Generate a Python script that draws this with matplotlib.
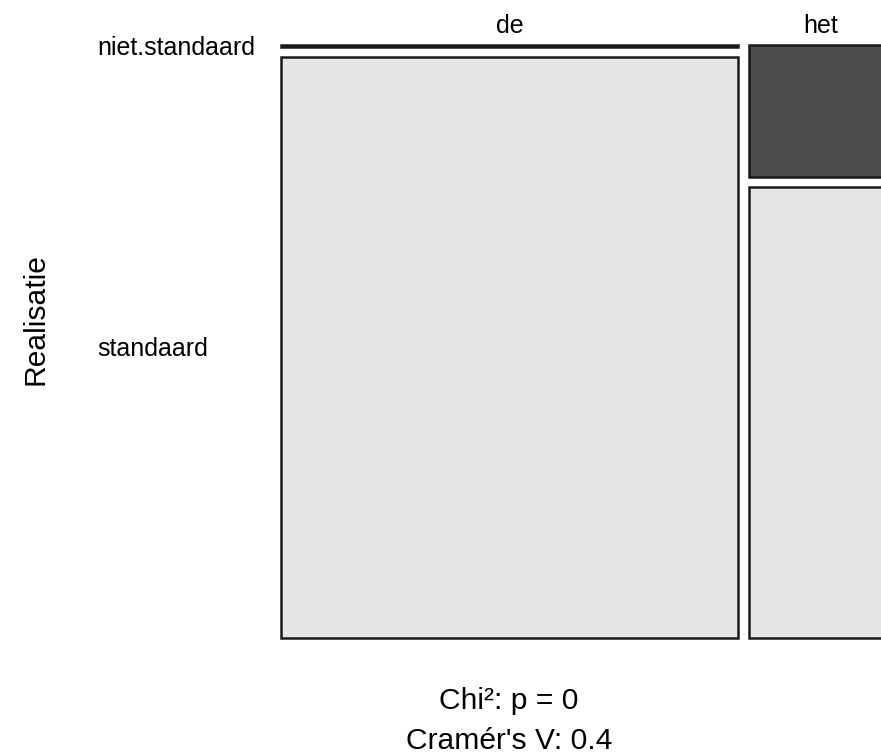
import numpy as np
import matplotlib
matplotlib.use('Agg')
import matplotlib.pyplot as plt
from matplotlib.patches import Rectangle

plt.rcParams['font.family'] = ['Liberation Sans', 'DejaVu Sans']

# data (counts per column, rows top -> bottom)
columns = ['de', 'het']
rows = ['niet.standaard', 'standaard']
counts_de = [2, 753]
counts_het = [54, 184]
fills_de = ['#e5e5e5', '#e5e5e5']
fills_het = ['#4d4d4d', '#e5e5e5']
row_title = 'Realisatie'
sub_lines = ['Chi²: p = 0', "Cramér's V: 0.4"]

counts = np.array([counts_de, counts_het], dtype=float)
fills = [fills_de, fills_het]

# layout in pixels
left, right, top, bottom = 281, 893, 45, 638
gap_x, gap_y = 11, 10

fig = plt.figure(figsize=(8.81, 7.56), dpi=100)
ax = fig.add_axes([0, 0, 1, 1])
ax.set_xlim(0, 881)
ax.set_ylim(756, 0)
ax.axis('off')

col_tot = counts.sum(axis=1)
usable_w = (right - left) - gap_x * (len(columns) - 1)
usable_h = (bottom - top) - gap_y * (len(rows) - 1)

x = left
for ci, col in enumerate(columns):
    w = usable_w * col_tot[ci] / col_tot.sum()
    y = top
    for ri, r in enumerate(rows):
        h = usable_h * counts[ci, ri] / col_tot[ci]
        ax.add_patch(Rectangle((x, y), w, h, facecolor=fills[ci][ri],
                               edgecolor='#1a1a1a', linewidth=1.8))
        if ci == 0:
            # row labels follow the first column
            ax.text(97, y + h / 2 + 9, r, fontsize=18, ha='left', va='baseline')
        y += h + gap_y
    ax.text(x + w / 2, 33, col, fontsize=18, ha='center', va='baseline')
    x += w + gap_x

ax.text(43, 319, row_title, fontsize=21.6, rotation=90, rotation_mode='anchor',
        ha='center', va='baseline')

ax.text(509, 709, sub_lines[0], fontsize=21.6, ha='center', va='baseline')
ax.text(509, 749, sub_lines[1], fontsize=21.6, ha='center', va='baseline')

fig.savefig('out.png', dpi=100)
